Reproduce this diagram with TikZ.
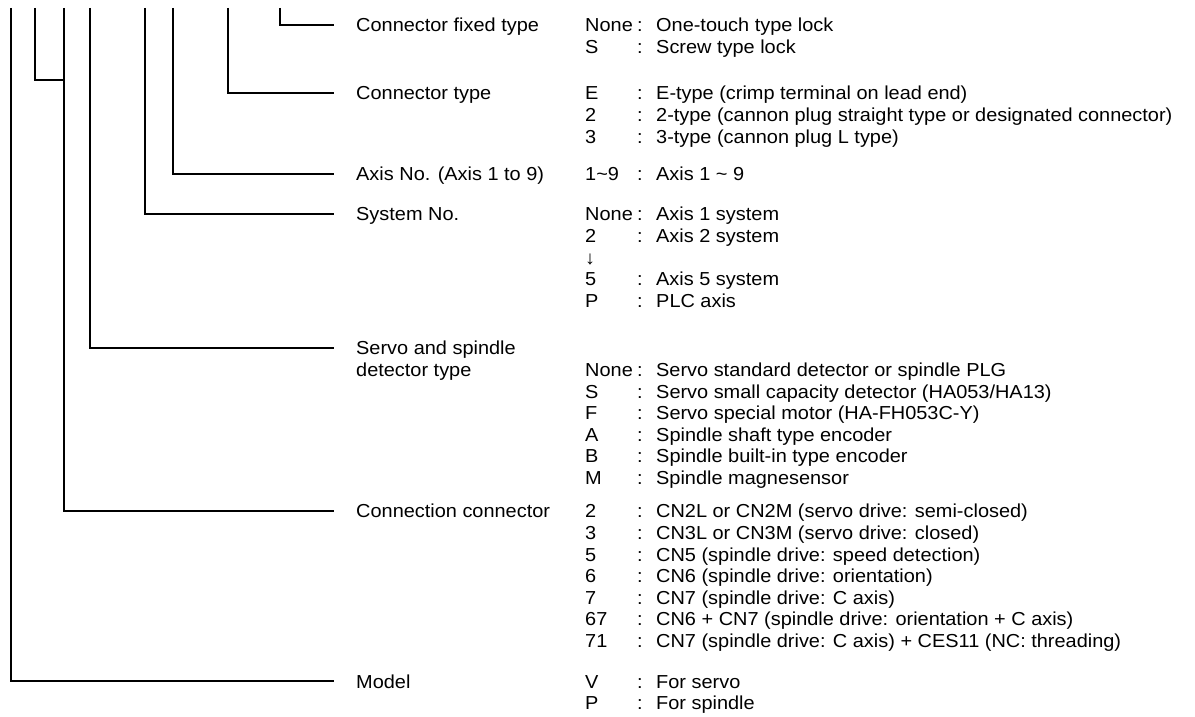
\documentclass[tikz,border=0pt]{standalone}
\usepackage{fontspec}
\setmainfont{Liberation Sans}[FakeStretch=1.06]
\usetikzlibrary{positioning}

\tikzset{
  lbl/.style={anchor=base west, inner sep=0pt, font=\fontsize{18.8}{21.6}\selectfont},
  tree/.style={line width=1.6pt},
}
\newcommand{\codelist}[1]{\begin{tabular}[t]{@{}p{52pt}@{}p{19pt}@{}l@{}}#1\end{tabular}}

\begin{document}
\begin{tikzpicture}[x=1pt,y=-1pt]
  \fill[white] (0,0) rectangle (1195,713);
  % tops of the branches
  \coordinate (tmodel) at (11,8);
  \coordinate (tpair) at (35,8);
  \coordinate (tconn) at (64,8);
  \coordinate (tdet) at (90,8);
  \coordinate (tsys) at (145,8);
  \coordinate (taxis) at (173,8);
  \coordinate (ttype) at (228,8);
  \coordinate (tfix) at (280,8);

  % item names
  \node[lbl] (lfix) at (356,32) {Connector fixed type};
  \node[lbl] (ltype) at (356,100) {Connector type};
  \node[lbl] (laxis) at (356,181) {Axis No. (Axis 1 to 9)};
  \node[lbl] (lsys) at (356,221) {System No.};
  \node[lbl] (ldet) at (356,355) {Servo and spindle};
  \node[lbl] (ldet2) at (356,376.6) {detector type};
  \node[lbl] (lconn) at (356,518) {Connection connector};
  \node[lbl] (lmodel) at (356,688) {Model};

  % codes
  \node[lbl] (cfix) at (585,32) {\codelist{None&:&One-touch type lock\\
    S&:&Screw type lock}};
  \node[lbl] (ctype) at (585,100) {\codelist{E&:&E-type (crimp terminal on lead end)\\
    2&:&2-type (cannon plug straight type or designated connector)\\
    3&:&3-type (cannon plug L type)}};
  \node[lbl] (caxis) at (585,181) {\codelist{1\textasciitilde 9&:&Axis 1 \textasciitilde\ 9}};
  \node[lbl] (csys) at (585,221) {\codelist{None&:&Axis 1 system\\
    2&:&Axis 2 system\\
    ↓&&\\
    5&:&Axis 5 system\\
    P&:&PLC axis}};
  \node[lbl] (cdet) at (585,376.6) {\codelist{None&:&Servo standard detector or spindle PLG\\
    S&:&Servo small capacity detector (HA053/HA13)\\
    F&:&Servo special motor (HA-FH053C-Y)\\
    A&:&Spindle shaft type encoder\\
    B&:&Spindle built-in type encoder\\
    M&:&Spindle magnesensor}};
  \node[lbl] (cconn) at (585,518) {\codelist{2&:&CN2L or CN2M (servo drive: semi-closed)\\
    3&:&CN3L or CN3M (servo drive: closed)\\
    5&:&CN5 (spindle drive: speed detection)\\
    6&:&CN6 (spindle drive: orientation)\\
    7&:&CN7 (spindle drive: C axis)\\
    67&:&CN6 + CN7 (spindle drive: orientation + C axis)\\
    71&:&CN7 (spindle drive: C axis) + CES11 (NC: threading)}};
  \node[lbl] (cmodel) at (585,688) {\codelist{V&:&For servo\\
    P&:&For spindle}};

  % tree lines
  \draw[tree] (tfix) |- ([xshift=-22pt,yshift=6.8pt]lfix.base west);
  \draw[tree] (ttype) |- ([xshift=-22pt,yshift=6.8pt]ltype.base west);
  \draw[tree] (taxis) |- ([xshift=-22pt,yshift=6.8pt]laxis.base west);
  \draw[tree] (tsys) |- ([xshift=-22pt,yshift=6.8pt]lsys.base west);
  \draw[tree] (tdet) |- ([xshift=-22pt,yshift=6.8pt]ldet.base west);
  \draw[tree] (tconn) |- ([xshift=-22pt,yshift=6.8pt]lconn.base west);
  \draw[tree] (tpair) |- (tconn |- 0,80);
  \draw[tree] (tmodel) |- ([xshift=-22pt,yshift=6.8pt]lmodel.base west);
\end{tikzpicture}
\end{document}
